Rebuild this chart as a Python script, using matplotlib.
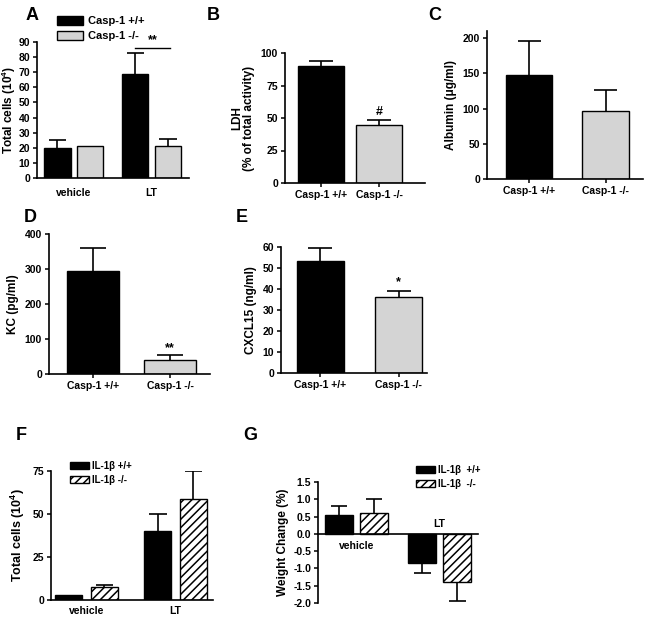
import matplotlib
matplotlib.use("Agg")
import matplotlib.pyplot as plt
from matplotlib.patches import Patch
import numpy as np

plt.rcParams['font.family'] = ['Liberation Sans', 'DejaVu Sans']
plt.rcParams['font.weight'] = 'bold'
plt.rcParams['axes.labelweight'] = 'bold'
plt.rcParams['mathtext.fontset'] = 'custom'
plt.rcParams['mathtext.rm'] = 'Liberation Sans:bold'
plt.rcParams['mathtext.bf'] = 'Liberation Sans:bold'
plt.rcParams['hatch.linewidth'] = 1.1

# ---- data ----
casp_groups = ["vehicle", "LT"]
casp_labels = ["Casp-1 +/+", "Casp-1 -/-"]
a_wt = [20, 69]
a_wt_err = [5, 13.5]
a_ko = [21.5, 21.5]
a_ko_err = [0, 4]

b_vals = [90, 45]
b_err = [4, 3.5]

c_vals = [147, 97]
c_err = [49, 29]

d_vals = [293, 40]
d_err = [67, 13]

e_vals = [53.5, 36]
e_err = [6, 3]

il_labels = ["IL-1β +/+", "IL-1β -/-"]
f_groups = ["vehicle", "LT"]
f_wt = [3, 40]
f_wt_err = [0, 10]
f_ko = [7.5, 59]
f_ko_err = [1.5, 16]

g_wt = [0.55, -0.83]
g_wt_err = [0.25, 0.30]
g_ko = [0.6, -1.38]
g_ko_err = [0.4, 0.55]

W, H = 647, 617
fig = plt.figure(figsize=(W / 100, H / 100), dpi=100)
GRAY = "#d4d4d4"
TICK = 7.5
YL = 8.5


def px_axes(left, top, right, bottom):
    return fig.add_axes([left / W, 1 - bottom / H, (right - left) / W, (bottom - top) / H])


def style(ax):
    for s in ["top", "right"]:
        ax.spines[s].set_visible(False)
    for s in ["left", "bottom"]:
        ax.spines[s].set_linewidth(1.2)
    ax.tick_params(axis="both", length=3, width=1.1, labelsize=TICK, pad=2)


def errs(ax, x, y, e, capw):
    # one-sided error bar: stem hidden inside the bar, cap at the end
    for xi, yi, ei in zip(x, y, e):
        if ei <= 0:
            continue
        end = yi - ei if yi < 0 else yi + ei
        ax.vlines(xi, yi, end, color="black", lw=1.2, zorder=1)
        ax.hlines(end, xi - capw / 2, xi + capw / 2, color="black", lw=1.2, zorder=1)


def panel_label(x, y, t):
    fig.text(x / W, 1 - y / H, t, fontsize=13, fontweight="bold", ha="left", va="center")


# ---- A ----
ax = px_axes(37, 42, 189, 178)
style(ax)
x = np.arange(len(casp_groups))
off, w = 0.21, 0.34
ax.bar(x - off, a_wt, w, color="black", edgecolor="black", lw=1, zorder=2)
ax.bar(x + off, a_ko, w, color=GRAY, edgecolor="black", lw=1, zorder=2)
errs(ax, x - off, a_wt, a_wt_err, 0.22)
errs(ax, x + off, a_ko, a_ko_err, 0.22)
ax.set_xlim(-0.47, 1.48)
ax.set_ylim(0, 90)
ax.set_yticks(np.arange(0, 91, 10))
ax.set_xticks(x)
ax.set_xticklabels(casp_groups)
ax.tick_params(axis="x", length=0, pad=7)
ax.set_ylabel("Total cells (10$^{4}$)", fontsize=8.5)
ax.yaxis.set_label_coords(-0.125, 0.5)
ax.plot([0.79, 1.23], [86, 86], color="black", lw=1, clip_on=False)
ax.text(1.01, 87, "**", ha="center", va="bottom", fontsize=9)
ax.legend(handles=[Patch(facecolor="black", edgecolor="black", label=casp_labels[0]),
                   Patch(facecolor=GRAY, edgecolor="black", label=casp_labels[1])],
          loc="upper left", bbox_to_anchor=(57 / W, 1 - 16 / H), bbox_transform=fig.transFigure,
          frameon=False, fontsize=8, handlelength=2.3, handleheight=0.8, labelspacing=0.45,
          handletextpad=0.5, borderpad=0, borderaxespad=0)
panel_label(26, 15, "A")

# ---- B ----
ax = px_axes(285, 53, 425, 183)
style(ax)
x = np.arange(2)
ax.bar(x, b_vals, 0.79, color=["black", GRAY], edgecolor="black", lw=1, zorder=2)
errs(ax, x, b_vals, b_err, 0.4)
ax.set_xlim(-0.62, 1.79)
ax.set_ylim(0, 100)
ax.set_yticks([0, 25, 50, 75, 100])
ax.set_xticks(x)
ax.set_xticklabels(casp_labels)
ax.set_ylabel("LDH\n(% of total activity)", fontsize=YL, labelpad=4, linespacing=1.0)
ax.text(1, 50, "#", ha="center", va="bottom", fontsize=9)
panel_label(207, 15, "B")

# ---- C ----
ax = px_axes(487, 31, 643, 179)
style(ax)
ax.bar(x, c_vals, 0.61, color=["black", GRAY], edgecolor="black", lw=1, zorder=2)
errs(ax, x, c_vals, c_err, 0.3)
ax.set_xlim(-0.55, 1.49)
ax.set_ylim(0, 210)
ax.set_yticks([0, 50, 100, 150, 200])
ax.set_xticks(x)
ax.set_xticklabels(casp_labels)
ax.set_ylabel("Albumin (μg/ml)", fontsize=YL, labelpad=4)
panel_label(428, 15, "C")

# ---- D ----
ax = px_axes(49, 234, 210, 374)
style(ax)
ax.bar(x, d_vals, 0.68, color=["black", GRAY], edgecolor="black", lw=1, zorder=2)
errs(ax, x, d_vals, d_err, 0.34)
ax.set_xlim(-0.57, 1.52)
ax.set_ylim(0, 400)
ax.set_yticks([0, 100, 200, 300, 400])
ax.set_xticks(x)
ax.set_xticklabels(casp_labels)
ax.set_ylabel("KC (pg/ml)", fontsize=YL, labelpad=4)
ax.text(1, 58, "**", ha="center", va="bottom", fontsize=9)
panel_label(24, 218, "D")

# ---- E ----
ax = px_axes(281, 247, 427, 373)
style(ax)
ax.bar(x, e_vals, 0.6, color=["black", GRAY], edgecolor="black", lw=1, zorder=2)
errs(ax, x, e_vals, e_err, 0.3)
ax.set_xlim(-0.5, 1.36)
ax.set_ylim(0, 60)
ax.set_yticks(np.arange(0, 61, 10))
ax.set_xticks(x)
ax.set_xticklabels(casp_labels)
ax.set_ylabel("CXCL15 (ng/ml)", fontsize=YL, labelpad=4)
ax.text(1, 40.5, "*", ha="center", va="bottom", fontsize=9)
panel_label(236, 218, "E")

# ---- F ----
ax = px_axes(51, 471, 213, 600)
style(ax)
x = np.arange(len(f_groups))
off, w = 0.2, 0.3
ax.bar(x - off, f_wt, w, color="black", edgecolor="black", lw=1, zorder=2)
ax.bar(x + off, f_ko, w, color="white", edgecolor="black", hatch="////", lw=1, zorder=2)
errs(ax, x - off, f_wt, f_wt_err, 0.2)
errs(ax, x + off, f_ko, f_ko_err, 0.2)
ax.set_xlim(-0.4, 1.42)
ax.set_ylim(0, 75)
ax.set_yticks([0, 25, 50, 75])
ax.set_xticks(x)
ax.set_xticklabels(f_groups)
ax.tick_params(axis="x", length=0, pad=4)
ax.set_ylabel("Total cells (10$^{4}$)", fontsize=9, labelpad=4)
ax.legend(handles=[Patch(facecolor="black", edgecolor="black", label=il_labels[0]),
                   Patch(facecolor="white", edgecolor="black", hatch="////", label=il_labels[1])],
          loc="upper left", bbox_to_anchor=(70 / W, 1 - 461 / H), bbox_transform=fig.transFigure,
          frameon=False, fontsize=7, handlelength=2.0, handleheight=0.75, labelspacing=0.4,
          handletextpad=0.3, borderpad=0, borderaxespad=0)
panel_label(16, 435, "F")

# ---- G ----
ax = px_axes(318, 482, 478, 603)
style(ax)
ax.spines["bottom"].set_position(("data", 0))
ax.bar(x - 0.21, g_wt, 0.34, color="black", edgecolor="black", lw=1, zorder=2)
ax.bar(x + 0.21, g_ko, 0.34, color="white", edgecolor="black", hatch="////", lw=1, zorder=2)
errs(ax, x - 0.21, g_wt, g_wt_err, 0.2)
errs(ax, x + 0.21, g_ko, g_ko_err, 0.2)
ax.set_xlim(-0.46, 1.46)
ax.set_ylim(-2.0, 1.5)
ax.set_yticks(np.arange(-2.0, 1.51, 0.5))
ax.yaxis.set_major_formatter(matplotlib.ticker.FormatStrFormatter("%.1f"))
ax.set_xticks([])
ax.text(0, -0.2, f_groups[0], ha="center", va="top", fontsize=TICK)
ax.text(1, 0.15, f_groups[1], ha="center", va="bottom", fontsize=TICK)
ax.set_ylabel("Weight Change (%)", fontsize=YL, labelpad=3)
ax.legend(handles=[Patch(facecolor="black", edgecolor="black", label="IL-1β  +/+"),
                   Patch(facecolor="white", edgecolor="black", hatch="////", label="IL-1β  -/-")],
          loc="upper left", bbox_to_anchor=(416 / W, 1 - 465 / H), bbox_transform=fig.transFigure,
          frameon=False, fontsize=7, handlelength=2.0, handleheight=0.75, labelspacing=0.4,
          handletextpad=0.3, borderpad=0, borderaxespad=0)
panel_label(243, 435, "G")

fig.savefig("out.png", dpi=100)
